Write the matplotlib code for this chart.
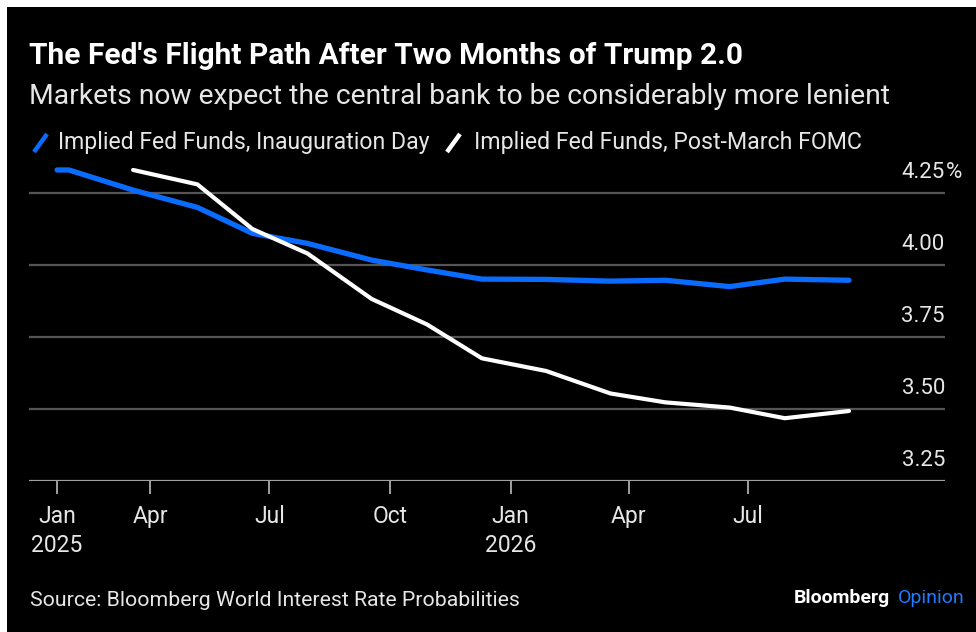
import datetime as dt
import matplotlib
matplotlib.use("Agg")
import matplotlib.pyplot as plt
import matplotlib.dates as mdates
from matplotlib.lines import Line2D
from matplotlib.patches import Rectangle

# ---- data (FOMC meeting dates) ----
inaug_dates = ["2025-01-20", "2025-01-29", "2025-03-19", "2025-05-07", "2025-06-18",
               "2025-07-30", "2025-09-17", "2025-10-29", "2025-12-10", "2026-01-28",
               "2026-03-18", "2026-04-29", "2026-06-17", "2026-07-29", "2026-09-16"]
inaug_vals = [4.33, 4.33, 4.26, 4.20, 4.11, 4.075, 4.017, 3.983, 3.951, 3.950,
              3.944, 3.947, 3.925, 3.951, 3.947]
post_dates = ["2025-03-19", "2025-05-07", "2025-06-18", "2025-07-30", "2025-09-17",
              "2025-10-29", "2025-12-10", "2026-01-28", "2026-03-18", "2026-04-29",
              "2026-06-17", "2026-07-29", "2026-09-16"]
post_vals = [4.33, 4.28, 4.125, 4.04, 3.882, 3.794, 3.676, 3.632, 3.554, 3.523,
             3.505, 3.468, 3.493]
ytick_vals = [3.25, 3.50, 3.75, 4.00, 4.25]
ytick_labels = ["3.25", "3.50", "3.75", "4.00", "4.25"]
xtick_dates = ["2025-01-20", "2025-04-01", "2025-07-01", "2025-10-01",
               "2026-01-01", "2026-04-01", "2026-07-01"]
xtick_labels = ["Jan\n2025", "Apr", "Jul", "Oct", "Jan\n2026", "Apr", "Jul"]

title = "The Fed's Flight Path After Two Months of Trump 2.0"
subtitle = "Markets now expect the central bank to be considerably more lenient"
legend_labels = ["Implied Fed Funds, Inauguration Day", "Implied Fed Funds, Post-March FOMC"]
source = "Source: Bloomberg World Interest Rate Probabilities"

BLUE = "#0a6cff"
WHITE = "#ffffff"
TXT = "#e6e6e6"
GRID = "#555555"
AXIS = "#a0a0a0"
FONT = "Roboto"

def d(s):
    return dt.datetime.strptime(s, "%Y-%m-%d")

W, H = 976, 632
fig = plt.figure(figsize=(W / 100, H / 100), dpi=100, facecolor="white")
fig.patches.append(Rectangle((7 / W, 0), 1, 1 - 7 / H, transform=fig.transFigure,
                             facecolor="black", edgecolor="none", zorder=-10))

def fx(x):
    return x / W

def fy(y):
    return 1 - y / H

# axes geometry in pixels
left, right, bottom, top = 29, 945, 481, 160
ax = fig.add_axes([fx(left), fy(bottom), (right - left) / W, (bottom - top) / H])
ax.set_facecolor("none")
ax.set_ylim(3.25, 3.25 + (bottom - top) / 288.0)
x0 = d(inaug_dates[0]) - dt.timedelta(days=21.4)
x1 = d(inaug_dates[-1]) + dt.timedelta(days=73.2)
ax.set_xlim(mdates.date2num(x0), mdates.date2num(x1))

for v in ytick_vals[1:]:
    ax.axhline(v, color=GRID, lw=1.6, zorder=1)
ax.axhline(ytick_vals[0], color=AXIS, lw=1.6, zorder=1)

ax.plot([d(s) for s in inaug_dates], inaug_vals, color=BLUE, lw=3.8,
        solid_joinstyle="round", solid_capstyle="round", zorder=3, clip_on=False)
ax.plot([d(s) for s in post_dates], post_vals, color=WHITE, lw=3.0,
        solid_joinstyle="round", solid_capstyle="round", zorder=4, clip_on=False)

for s in ax.spines.values():
    s.set_visible(False)
ax.set_yticks([])
ax.set_xticks([mdates.date2num(d(s)) for s in xtick_dates])
ax.set_xticklabels(xtick_labels, fontsize=16.5, color=TXT, family=FONT, linespacing=1.35)
ax.tick_params(axis="x", length=9, width=1.4, color=AXIS, pad=8)

# y labels above gridlines, right aligned
for v, lab in zip(ytick_vals, ytick_labels):
    ax.annotate(lab, xy=(1.0, v), xycoords=("axes fraction", "data"),
                xytext=(0, 21), textcoords="offset pixels", ha="right", va="center",
                fontsize=16, color=TXT, family=FONT)
ax.annotate("%", xy=(1.0, ytick_vals[-1]), xycoords=("axes fraction", "data"),
            xytext=(1, 21), textcoords="offset pixels", ha="left", va="center",
            fontsize=16, color=TXT, family=FONT)

# titles
fig.text(fx(29), fy(56), title, fontsize=21.5, fontweight="bold", color="white",
         family=FONT, va="center", ha="left")
fig.text(fx(29), fy(96), subtitle, fontsize=20.3, color=TXT, family=FONT,
         va="center", ha="left")

# legend
for (xa, xb), col in [((34, 47), BLUE), ((447, 460), WHITE)]:
    fig.add_artist(Line2D([fx(xa), fx(xb)], [fy(152), fy(134)], color=col, lw=3.2,
                          transform=fig.transFigure, solid_capstyle="butt"))
fig.text(fx(58), fy(143), legend_labels[0], fontsize=16.6, color=TXT, family=FONT,
         va="center", ha="left")
fig.text(fx(474), fy(143), legend_labels[1], fontsize=16.7, color=TXT, family=FONT,
         va="center", ha="left")

# source + branding
fig.text(fx(30), fy(600), source, fontsize=15.3, color=TXT, family=FONT,
         va="center", ha="left")
fig.text(fx(965), fy(598), "Opinion", fontsize=14, color="#1f7bff", family=FONT,
         va="center", ha="right")
fig.text(fx(890), fy(598), "Bloomberg", fontsize=14, color="white", family=FONT,
         fontweight="bold", va="center", ha="right")

fig.savefig("out.png", dpi=100, facecolor=fig.get_facecolor())
